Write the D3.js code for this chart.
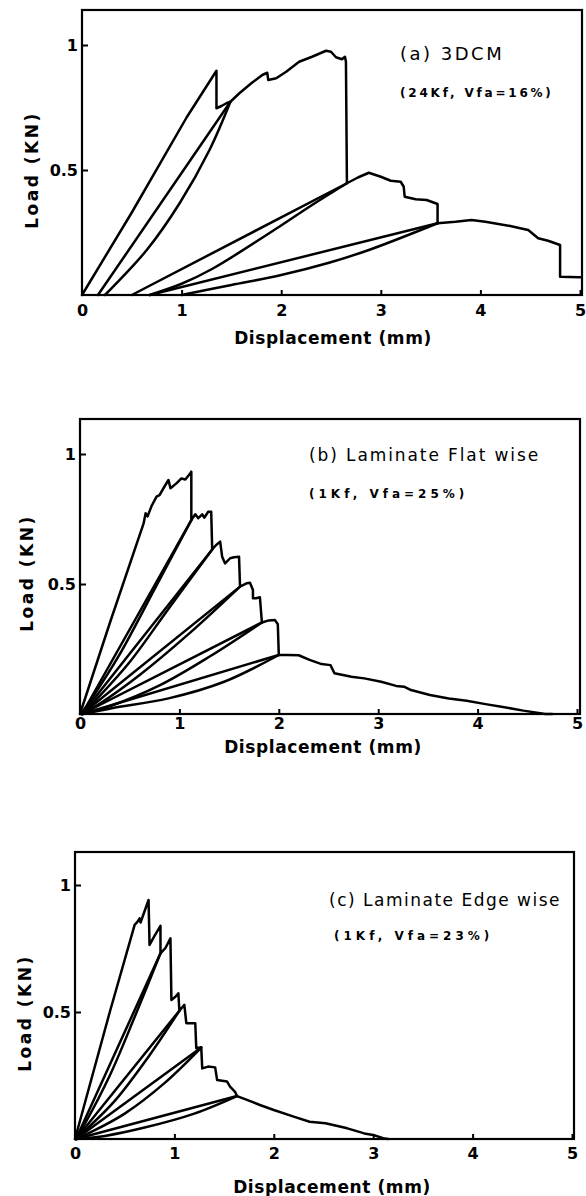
<!DOCTYPE html>
<html>
<head>
<meta charset="utf-8">
<script src="https://cdn.jsdelivr.net/npm/d3@7"></script>
<style>
    body { margin: 0; background: #fff; }
    svg { display: block; }
    text { font-family: "DejaVu Sans", sans-serif; fill: #000; }
    .curve { fill: none; stroke: #000; stroke-width: 2.5; stroke-linejoin: round; stroke-linecap: round; }
    .frame { fill: none; stroke: #000; stroke-width: 2.2; }
    .tick line { stroke: #000; stroke-width: 2; }
    .tick text { font-size: 16px; font-weight: bold; }
    .sub { font-size: 12px; font-weight: bold; }
    .axisTitle { font-size: 17px; font-weight: bold; }
</style>
</head>
<body>
<svg id="chart" width="586" height="1196"></svg>
<script>
// tick values and labels
const xTicks = [0, 1, 2, 3, 4, 5];
const yTicks = [0.5, 1];
const xTitle = "Displacement (mm)";
const yTitle = "Load (KN)";
const titles = ["(a) 3DCM", "(b) Laminate Flat wise", "(c) Laminate Edge wise"];
const subTitles = ["(24Kf, Vfa=16%)", "(1Kf, Vfa=25%)", "(1Kf, Vfa=23%)"];

// (a) 3DCM : [displacement mm, load kN]
const aEnvelope = [[0,0],[0.5,0.33],[1.05,0.71],[1.35,0.897],[1.35,0.747],[1.40,0.756],[1.45,0.767],[1.49,0.773],
    [1.58,0.807],[1.70,0.847],[1.81,0.88],[1.86,0.889],[1.87,0.86],[1.95,0.867],[2.05,0.893],[2.18,0.933],
    [2.31,0.953],[2.45,0.977],[2.50,0.973],[2.55,0.951],[2.61,0.943],[2.64,0.953],[2.65,0.933],[2.66,0.447],
    [2.77,0.47],[2.88,0.489],[3.0,0.473],[3.10,0.457],[3.20,0.453],[3.23,0.433],[3.24,0.393],[3.35,0.383],
    [3.46,0.38],[3.57,0.364],[3.57,0.287],[3.75,0.293],[3.91,0.30],[4.05,0.293],[4.18,0.284],[4.30,0.276],
    [4.40,0.267],[4.48,0.26],[4.58,0.227],[4.68,0.217],[4.80,0.20],[4.80,0.073],[5.0,0.071]];
const aLoop1Up = [[0.16,0],[1.49,0.773]];
const aLoop1Down = [[1.49,0.773],[1.28,0.58],[0.98,0.367],[0.65,0.18],[0.23,0]];
const aLoop2Up = [[0.50,0],[2.66,0.447]];
const aLoop2Down = [[2.66,0.447],[2.31,0.36],[1.98,0.273],[1.31,0.105],[1.0,0.045],[0.68,0]];
const aLoop3Up = [[0.68,0],[3.57,0.287]];
const aLoop3Down = [[3.57,0.287],[2.88,0.18],[2.48,0.129],[2.0,0.08],[1.5,0.04],[1.0,0]];

// (b) Laminate flat wise
const bEnvelope = [[0,0],[0.3,0.35],[0.64,0.733],[0.66,0.772],[0.68,0.76],[0.72,0.80],[0.77,0.836],[0.80,0.842],
    [0.85,0.875],[0.89,0.90],[0.91,0.868],[0.97,0.887],[1.02,0.906],[1.06,0.902],[1.11,0.926],[1.12,0.932],
    [1.12,0.746],[1.16,0.768],[1.19,0.753],[1.23,0.768],[1.25,0.755],[1.29,0.778],[1.32,0.778],[1.33,0.633],
    [1.37,0.65],[1.41,0.663],[1.43,0.605],[1.46,0.579],[1.51,0.599],[1.55,0.603],[1.60,0.605],[1.61,0.49],
    [1.68,0.503],[1.71,0.505],[1.74,0.477],[1.74,0.445],[1.77,0.445],[1.81,0.449],[1.83,0.352],[1.90,0.36],
    [1.96,0.362],[1.99,0.345],[2.0,0.227],[2.09,0.227],[2.2,0.226],[2.31,0.208],[2.43,0.192],[2.52,0.188],
    [2.56,0.157],[2.73,0.143],[2.86,0.137],[3.03,0.124],[3.18,0.108],[3.26,0.105],[3.33,0.092],[3.52,0.073],
    [3.71,0.06],[3.89,0.051],[4.08,0.038],[4.27,0.026],[4.46,0.013],[4.68,0],[4.75,0]];
const bLoop1Up = [[0.02,0],[1.12,0.746]];
const bLoop1Down = [[1.12,0.746],[0.75,0.48],[0.4,0.23],[0.12,0.06],[0.01,0]];
const bLoop2Up = [[0.02,0],[1.33,0.633]];
const bLoop2Down = [[1.33,0.633],[0.9,0.41],[0.5,0.2],[0.15,0.05],[0.02,0]];
const bLoop3Up = [[0.02,0],[1.61,0.49]];
const bLoop3Down = [[1.61,0.49],[1.1,0.31],[0.6,0.15],[0.2,0.04],[0.02,0]];
const bLoop4Up = [[0.02,0],[1.83,0.352]];
const bLoop4Down = [[1.83,0.352],[1.3,0.22],[0.8,0.11],[0.3,0.03],[0.03,0]];
const bLoop5Up = [[0.02,0],[2.0,0.227]];
const bLoop5Down = [[2.0,0.227],[1.45,0.124],[0.89,0.06],[0.32,0.022],[0.03,0]];

// (c) Laminate edge wise
const cEnvelope = [[0,0],[0.35,0.5],[0.60,0.843],[0.63,0.856],[0.65,0.869],[0.66,0.852],[0.68,0.875],[0.74,0.941],
    [0.75,0.764],[0.80,0.80],[0.86,0.839],[0.86,0.731],[0.91,0.752],[0.96,0.79],[0.97,0.547],[1.01,0.56],
    [1.04,0.574],[1.05,0.505],[1.10,0.528],[1.12,0.456],[1.21,0.456],[1.22,0.357],[1.27,0.361],[1.28,0.278],
    [1.34,0.285],[1.41,0.282],[1.43,0.232],[1.53,0.226],[1.56,0.206],[1.61,0.186],[1.63,0.169],[1.73,0.154],
    [1.86,0.134],[2.0,0.114],[2.2,0.088],[2.36,0.068],[2.52,0.062],[2.74,0.042],[2.91,0.022],[3.0,0.016],
    [3.1,0.003],[3.15,0]];
const cLoop1Up = [[0.01,0],[0.86,0.731]];
const cLoop1Down = [[0.86,0.731],[0.6,0.48],[0.35,0.25],[0.1,0.06],[0.01,0]];
const cLoop2Up = [[0.01,0],[1.05,0.505]];
const cLoop2Down = [[1.05,0.505],[0.75,0.33],[0.4,0.15],[0.12,0.04],[0.01,0]];
const cLoop3Up = [[0.01,0],[1.27,0.36]];
const cLoop3Down = [[1.27,0.36],[0.9,0.22],[0.5,0.1],[0.15,0.025],[0.01,0]];
const cLoop4Up = [[0.01,0],[1.63,0.169]];
const cLoop4Down = [[1.63,0.169],[1.2,0.1],[0.7,0.045],[0.3,0.012],[0.02,0]];

const svg = d3.select("#chart");

// layout of the three panels (pixels)
const panels = [
    {left: 82, right: 580, frameRight: 582, zero: 295, one: 45, top: 10, xPad: 10, yPad: 4,
     titleX: 400, titleY: 60, titleSize: 18, titleSpace: 2.5, subX: 400, subY: 97, subSpace: 2.8,
     xTitleX: 333, xTitleY: 344, yTitleX: 32, yTitleY: 170,
     lines: [aEnvelope, aLoop1Up, aLoop2Up, aLoop3Up],
     curves: [aLoop1Down, aLoop2Down, aLoop3Down]},
    {left: 80, right: 577, frameRight: 580, zero: 714, one: 454, top: 419, xPad: 4, yPad: 4,
     titleX: 309, titleY: 461, titleSize: 17, titleSpace: 1.9, subX: 309, subY: 498, subSpace: 4,
     xTitleX: 323, xTitleY: 753, yTitleX: 27, yTitleY: 573,
     lines: [bEnvelope, bLoop1Up, bLoop2Up, bLoop3Up, bLoop4Up, bLoop5Up],
     curves: [bLoop1Down, bLoop2Down, bLoop3Down, bLoop4Down, bLoop5Down]},
    {left: 75, right: 572, frameRight: 574, zero: 1139, one: 885, top: 852, xPad: 9, yPad: 4,
     titleX: 329, titleY: 906, titleSize: 17, titleSpace: 1.5, subX: 334, subY: 940, subSpace: 4,
     xTitleX: 332, xTitleY: 1193, yTitleX: 25, yTitleY: 1013,
     lines: [cEnvelope, cLoop1Up, cLoop2Up, cLoop3Up, cLoop4Up],
     curves: [cLoop1Down, cLoop2Down, cLoop3Down, cLoop4Down]}
];

panels.forEach((p, i) => {
    let x = d3.scaleLinear().domain([0, 5]).range([p.left, p.right]);
    let y = d3.scaleLinear().domain([0, 1]).range([p.zero, p.one]);
    let g = svg.append("g");

    let line = d3.line().x(d => x(d[0])).y(d => y(d[1]));
    let smooth = d3.line().x(d => x(d[0])).y(d => y(d[1])).curve(d3.curveCatmullRom.alpha(0.5));

    g.selectAll("path.straight")
        .data(p.lines)
        .enter()
        .append("path")
        .attr("class", "curve straight")
        .attr("d", line);
    // unloading branches are bowed
    g.selectAll("path.bowed")
        .data(p.curves)
        .enter()
        .append("path")
        .attr("class", "curve bowed")
        .attr("d", smooth);

    g.append("rect")
        .attr("class", "frame")
        .attr("x", p.left)
        .attr("y", p.top)
        .attr("width", p.frameRight - p.left)
        .attr("height", p.zero - p.top);

    g.append("g")
        .attr("transform", `translate(0,${p.zero})`)
        .call(d3.axisBottom(x).tickValues(xTicks).tickFormat(d3.format("")).tickSizeInner(-5).tickSizeOuter(0).tickPadding(p.xPad))
        .call(a => a.select(".domain").remove());

    g.append("g")
        .attr("transform", `translate(${p.left},0)`)
        .call(d3.axisLeft(y).tickValues(yTicks).tickFormat(d3.format("")).tickSizeInner(-6).tickSizeOuter(0).tickPadding(p.yPad))
        .call(a => a.select(".domain").remove());

    svg.selectAll(".tick text").attr("font-family", null).attr("font-size", null);

    g.append("text")
        .attr("x", p.titleX).attr("y", p.titleY)
        .style("font-size", p.titleSize + "px")
        .style("letter-spacing", p.titleSpace + "px")
        .text(titles[i]);
    g.append("text").attr("class", "sub")
        .attr("x", p.subX).attr("y", p.subY)
        .style("letter-spacing", p.subSpace + "px")
        .text(subTitles[i]);

    g.append("text").attr("class", "axisTitle")
        .attr("x", p.xTitleX).attr("y", p.xTitleY)
        .attr("text-anchor", "middle")
        .style("letter-spacing", "0.6px")
        .text(xTitle);
    g.append("text").attr("class", "axisTitle")
        .attr("transform", `translate(${p.yTitleX},${p.yTitleY}) rotate(-90)`)
        .attr("text-anchor", "middle")
        .attr("dy", "0.35em")
        .style("letter-spacing", "2.5px")
        .text(yTitle);
});
</script>
</body>
</html>
